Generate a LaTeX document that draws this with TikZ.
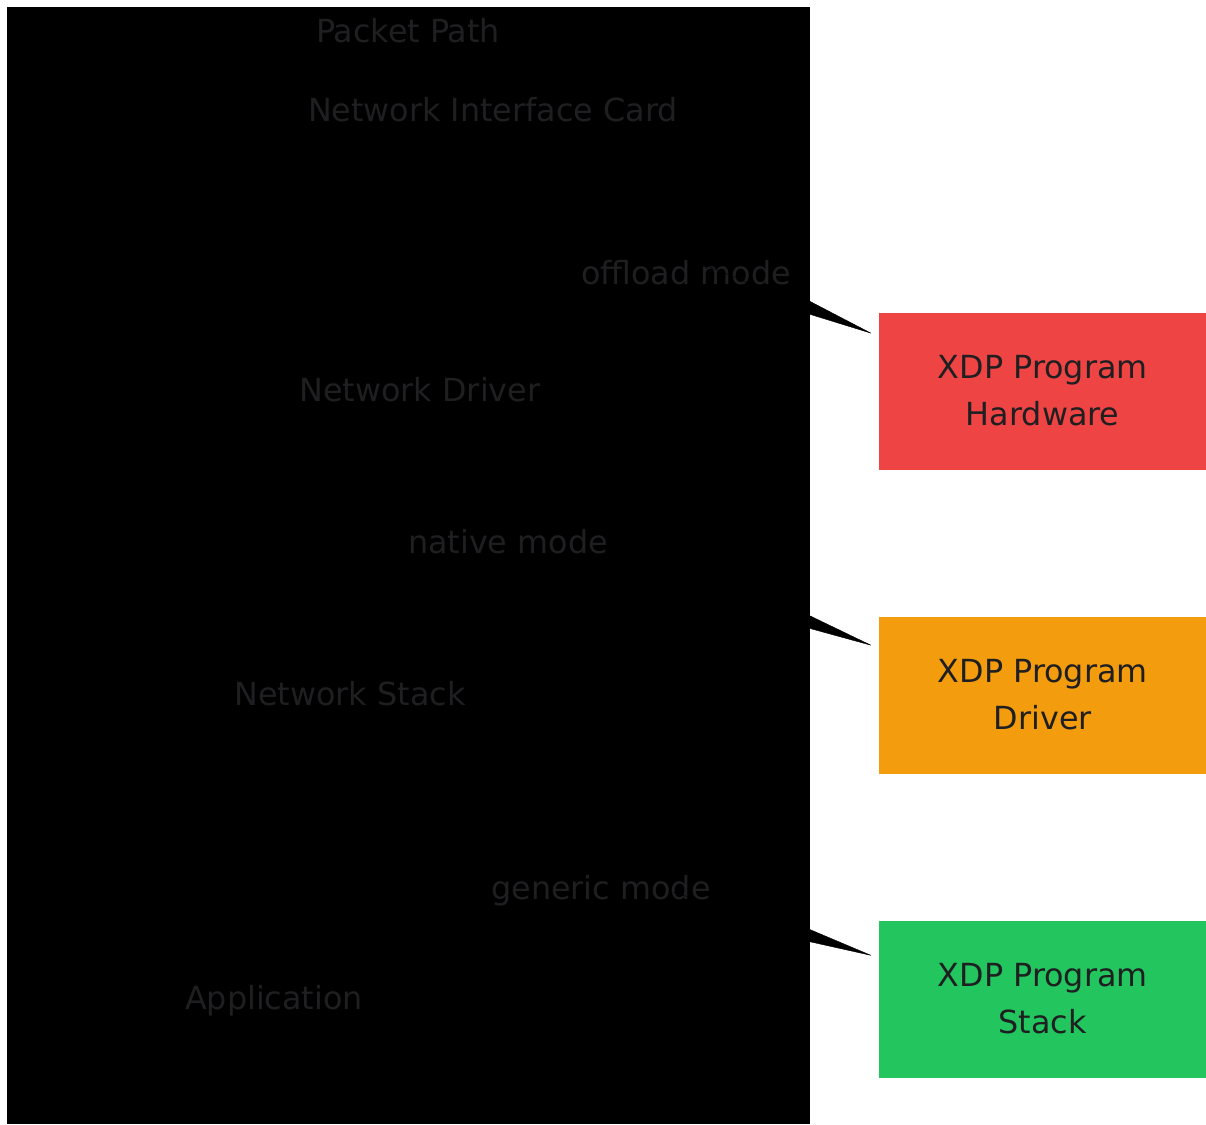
\documentclass[tikz,border=0pt]{standalone}
\usepackage{fontspec}
\setmainfont{DejaVu Sans}
\usepackage{tikz}
\usetikzlibrary{arrows.meta, positioning, calc}
\definecolor{hwred}{HTML}{EF4444}
\definecolor{drvorange}{HTML}{F39C0E}
\definecolor{stkgreen}{HTML}{22C55E}
\definecolor{dimtext}{HTML}{1F1F22}
\tikzset{every node/.style={font=\fontsize{31.8}{47}\selectfont, text=dimtext}}
\tikzset{lbl/.style={anchor=base, inner sep=0pt}}
\tikzset{prog/.style={anchor=north west, minimum width=327pt,
    minimum height=157pt, inner sep=0pt, align=center,
    text depth=3pt}}
\tikzset{hook/.style={-{Triangle[length=100pt, width=18pt]}, thin, black}}

\begin{document}
\begin{tikzpicture}[x=1pt, y=-1pt]
  \useasboundingbox (0,0) rectangle (1206,1124);
  \path[fill=black] (7,7) rectangle (810,1124);
  %%%% packet path
  \node[lbl] (pp) at (408,42) {Packet Path};
  \node[lbl] (nic) at (493,121) {Network Interface Card};
  \node[lbl] (offload) at (686,284) {offload mode};
  \node[lbl] (drv) at (420,401) {Network Driver};
  \node[lbl] (native) at (508,553) {native mode};
  \node[lbl] (stk) at (350,705) {Network Stack};
  \node[lbl] (generic) at (601,899) {generic mode};
  \node[lbl] (app) at (274,1009) {Application};
  %%%% xdp programs
  \node[prog, fill=hwred] (hw) at (879,313) {XDP Program\\Hardware};
  \node[prog, fill=drvorange] (drvprog) at (879,617) {XDP Program\\Driver};
  \node[prog, fill=stkgreen] (stkprog) at (879,921) {XDP Program\\Stack};
  %%%% hooks
  \coordinate (hwtip) at ($(hw.north west)+(-6,21)$);
  \coordinate (drvtip) at ($(drvprog.north west)+(-6,29)$);
  \coordinate (stktip) at ($(stkprog.north west)+(-6,35)$);
  \coordinate (hwtail) at ($(hwtip)+(-185,-76)$);
  \coordinate (drvtail) at ($(drvtip)+(-200,-75)$);
  \coordinate (stktail) at ($(stktip)+(-200,-64)$);
  \draw[hook] (hwtail) -- (hwtip);
  \draw[hook] (drvtail) -- (drvtip);
  \draw[hook] (stktail) -- (stktip);
\end{tikzpicture}
\end{document}
